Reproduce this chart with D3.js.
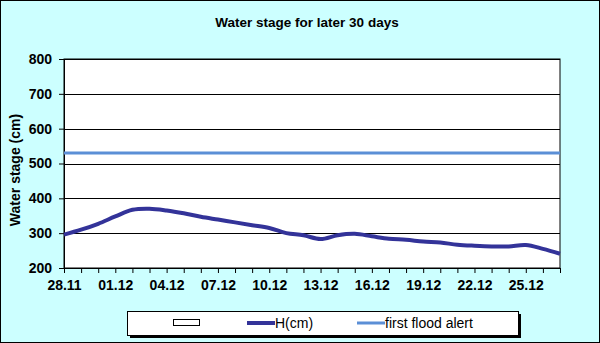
<!DOCTYPE html>
<html>
<head>
<meta charset="utf-8">
<script src="https://cdn.jsdelivr.net/npm/d3@7"></script>
<style>
  body { margin: 0; background: #fff; }
  svg { display: block; font-family: "Liberation Sans", Arial, sans-serif; }
</style>
</head>
<body>
<svg id="chart" width="600" height="343"></svg>
<script>
// categories: days from 28.11 to 27.12
let days = ["28.11", "29.11", "30.11", "01.12", "02.12", "03.12", "04.12", "05.12", "06.12", "07.12",
    "08.12", "09.12", "10.12", "11.12", "12.12", "13.12", "14.12", "15.12", "16.12", "17.12",
    "18.12", "19.12", "20.12", "21.12", "22.12", "23.12", "24.12", "25.12", "26.12", "27.12"];

// H(cm) values
let stage = [296, 310, 327, 348, 367, 370, 365, 357, 347, 339,
    331, 323, 315, 300, 294, 283, 294, 298, 291, 284,
    281, 276, 273, 267, 264, 262, 262, 266, 255, 241];

let floodAlert = 530;
let yTicks = [200, 300, 400, 500, 600, 700, 800];

let svg = d3.select("#chart");
let width = 600, height = 343;
let margin = { left: 64, right: 40, top: 59, bottom: 75 };

// background
svg.append("rect")
    .attr("x", 0.5).attr("y", 0.5)
    .attr("width", width - 1).attr("height", height - 1)
    .attr("fill", "#ccffff")
    .attr("stroke", "#000");

let x = d3.scalePoint()
    .domain(days)
    .range([margin.left, width - margin.right]);

let y = d3.scaleLinear()
    .domain([200, 800])
    .range([height - margin.bottom, margin.top]);

// plot area
svg.append("rect")
    .attr("x", margin.left).attr("y", margin.top)
    .attr("width", width - margin.left - margin.right)
    .attr("height", height - margin.top - margin.bottom)
    .attr("fill", "#fff")
    .attr("stroke", "#000");

// gridlines
svg.append("g")
    .selectAll("line")
    .data(yTicks)
    .join("line")
    .attr("x1", margin.left).attr("x2", width - margin.right)
    .attr("y1", d => Math.round(y(d)) + 0.5)
    .attr("y2", d => Math.round(y(d)) + 0.5)
    .attr("stroke", "#000");

// y axis
let yAxis = svg.append("g")
    .attr("transform", `translate(${margin.left},0)`)
    .call(d3.axisLeft(y).tickValues(yTicks).tickSize(5).tickPadding(7));
yAxis.select(".domain").attr("stroke", "#000");
yAxis.selectAll("text")
    .attr("font-size", 14).attr("font-weight", "bold").attr("fill", "#000")
    .attr("font-family", "Liberation Sans, Arial, sans-serif");

// x axis, ticks at every day, label every third day
let xAxis = svg.append("g")
    .attr("transform", `translate(0,${height - margin.bottom})`)
    .call(d3.axisBottom(x)
        .tickSize(5)
        .tickPadding(7)
        .tickFormat((d, i) => i % 3 == 0 ? d : ""));
xAxis.select(".domain").remove();
xAxis.selectAll("text")
    .attr("font-size", 14).attr("font-weight", "bold").attr("fill", "#000")
    .attr("font-family", "Liberation Sans, Arial, sans-serif");

// flood alert line
svg.append("line")
    .attr("x1", margin.left).attr("x2", width - margin.right)
    .attr("y1", y(floodAlert)).attr("y2", y(floodAlert))
    .attr("stroke", "#5b8fd6")
    .attr("stroke-width", 3);

// water stage line
let line = d3.line()
    .x((d, i) => x(days[i]))
    .y(d => y(d))
    .curve(d3.curveCatmullRom.alpha(0.5));

svg.append("path")
    .datum(stage)
    .attr("d", line)
    .attr("fill", "none")
    .attr("stroke", "#333399")
    .attr("stroke-width", 4)
    .attr("stroke-linejoin", "round");

// title
svg.append("text")
    .attr("x", 307).attr("y", 27)
    .attr("text-anchor", "middle")
    .attr("font-size", 13.5).attr("font-weight", "bold")
    .text("Water stage for later 30 days");

// y axis title
svg.append("text")
    .attr("transform", `translate(20,170) rotate(-90)`)
    .attr("text-anchor", "middle")
    .attr("font-size", 14).attr("font-weight", "bold")
    .text("Water stage (cm)");

// legend
let legend = svg.append("g");
legend.append("rect")
    .attr("x", 130).attr("y", 314)
    .attr("width", 391).attr("height", 24)
    .attr("fill", "#000");
legend.append("rect")
    .attr("x", 127.5).attr("y", 311.5)
    .attr("width", 391).attr("height", 24)
    .attr("fill", "#fff")
    .attr("stroke", "#000");

legend.append("rect")
    .attr("x", 173.5).attr("y", 319.5)
    .attr("width", 26).attr("height", 6)
    .attr("fill", "#fff")
    .attr("stroke", "#000");

let legendItems = [
    { label: "H(cm)", color: "#333399", w: 4, x: 247 },
    { label: "first flood alert", color: "#5b8fd6", w: 3, x: 357 }
];
legend.selectAll(".item")
    .data(legendItems)
    .join("g")
    .attr("class", "item")
    .each(function(d) {
        let g = d3.select(this);
        g.append("line")
            .attr("x1", d.x).attr("x2", d.x + 28)
            .attr("y1", 323).attr("y2", 323)
            .attr("stroke", d.color)
            .attr("stroke-width", d.w);
        g.append("text")
            .attr("x", d.x + 28).attr("y", 328)
            .attr("font-size", 14)
            .text(d.label);
    });
</script>
</body>
</html>
